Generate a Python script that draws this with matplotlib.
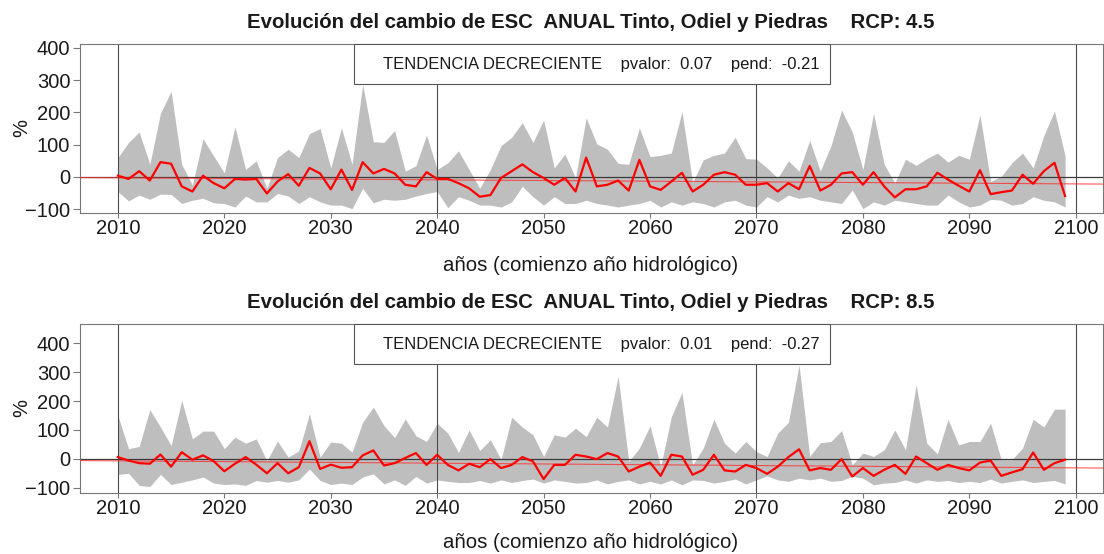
import matplotlib
matplotlib.use('Agg')
import matplotlib.pyplot as plt
from matplotlib.patches import Rectangle
import numpy as np

plt.rcParams['font.family'] = ['Liberation Sans', 'DejaVu Sans']

# ---------------- data ----------------
years = list(range(2010, 2100))
x_ticks = [2010, 2020, 2030, 2040, 2050, 2060, 2070, 2080, 2090, 2100]
y_ticks = [-100, 0, 100, 200, 300, 400]
vlines_years = [2010, 2040, 2070, 2100]

titles = ["Evolución del cambio de ESC  ANUAL Tinto, Odiel y Piedras    RCP: 4.5",
          "Evolución del cambio de ESC  ANUAL Tinto, Odiel y Piedras    RCP: 8.5"]
xlabel_text = "años (comienzo año hidrológico)"
ylabel_text = "%"
trend_label = "TENDENCIA DECRECIENTE"
pvalor = ["0.07", "0.01"]
pend = ["-0.21", "-0.27"]
trend_intercept = [-2.5, -7.0]   # value at 2010
trend_slope = [-0.21, -0.27]

upper45 = [60, 107, 139, 39, 197, 265, 39, -25, 118, 65,
           13, 155, 23, 50, -35, 60, 86, 60, 134, 150,
           28, 152, 39, 286, 109, 107, 144, 18, 35, 130,
           23, 44, 81, 23, -35, 23, 97, 123, 168, 107,
           176, 28, 71, -3, 183, 102, 86, 42, 39, 152,
           63, 67, 74, 202, -17, 53, 67, 74, 123, 57,
           55, 28, -3, 50, 18, 113, 18, 97, 207, 139,
           23, 197, 39, -19, 55, 36, 57, 74, 46, 67,
           55, 192, -14, 2, 44, 74, 28, 128, 204, 65]
mean45 = [4, -6, 18, -11, 46, 41, -29, -45, 4, -19,
          -35, -6, -8, -6, -51, -14, 9, -27, 28, 11,
          -38, 23, -40, 46, 11, 25, 11, -24, -29, 15,
          -6, -6, -19, -35, -61, -56, -3, 18, 39, 15,
          -3, -24, -3, -45, 60, -29, -24, -11, -42, 53,
          -29, -40, -14, 13, -45, -24, 7, 15, 7, -24,
          -24, -19, -45, -19, -38, 34, -42, -24, 11, 15,
          -24, 15, -29, -63, -38, -38, -29, 13, -8, -27,
          -45, 21, -53, -47, -42, 7, -21, 18, 44, -59]
lower45 = [-45, -74, -56, -69, -53, -54, -82, -72, -66, -80,
           -82, -93, -59, -77, -77, -51, -59, -82, -61, -77,
           -87, -87, -98, -35, -80, -69, -72, -69, -59, -51,
           -45, -95, -61, -72, -87, -87, -93, -77, -29, -61,
           -87, -61, -82, -82, -72, -82, -87, -93, -87, -82,
           -72, -93, -77, -87, -77, -82, -93, -77, -72, -87,
           -93, -61, -77, -56, -66, -61, -72, -77, -82, -40,
           -98, -77, -87, -72, -77, -82, -87, -87, -56, -77,
           -93, -87, -69, -72, -87, -82, -61, -72, -77, -93]

upper85 = [150, 35, 43, 170, 110, 46, 202, 69, 96, 96,
           35, 75, 54, 69, -6, 61, 6, 27, 156, 6,
           58, 54, 23, 127, 179, 115, 73, 138, 80, 60,
           123, 89, 22, 100, 29, 66, -3, 144, 110, 83,
           8, 83, 75, 106, 77, 144, 110, 285, -9, 37,
           114, -27, 146, 230, -21, 37, 137, 54, 20, 60,
           25, 8, 89, 126, 325, 8, 56, 60, 98, -21,
           20, 8, 31, 100, 31, 256, 54, 17, 137, 48,
           60, 60, 123, -3, -3, 37, 137, 110, 172, 172]
mean85 = [6, -6, -15, -17, 15, -27, 23, -3, 12, -8,
          -43, -17, 6, -20, -50, -15, -50, -29, 61, -35,
          -20, -31, -29, 12, 29, -23, -15, 3, 20, -21,
          14, -21, -40, -17, -29, -1, -32, -21, 6, -9,
          -70, -21, -21, 14, 8, -1, 20, 8, -44, -27,
          -13, -59, 14, 8, -55, -38, 14, -40, -44, -21,
          -32, -52, -27, 6, 33, -40, -32, -38, -1, -61,
          -32, -59, -38, -21, -52, 8, -15, -38, -21, -32,
          -40, -13, -6, -59, -47, -36, 22, -38, -15, -3]
lower85 = [-54, -50, -92, -96, -54, -89, -81, -73, -63, -84,
           -89, -87, -92, -75, -81, -75, -81, -73, -35, -75,
           -89, -84, -89, -63, -52, -87, -73, -92, -61, -84,
           -73, -78, -82, -82, -75, -84, -73, -82, -75, -70,
           -84, -73, -78, -84, -82, -73, -87, -78, -73, -87,
           -78, -87, -73, -90, -73, -75, -84, -78, -70, -87,
           -73, -59, -73, -78, -67, -73, -67, -78, -75, -61,
           -67, -90, -84, -82, -73, -84, -73, -78, -75, -82,
           -78, -82, -70, -84, -78, -73, -82, -78, -75, -87]

uppers = [upper45, upper85]
means = [mean45, mean85]
lowers = [lower45, lower85]

# ---------------- layout ----------------
W, H = 1104, 554
fig = plt.figure(figsize=(W / 100, H / 100), dpi=100)

xlim = (2006.44, 2102.56)
ylims = [(-110.5, 411.5), (-117.3, 466.8)]
ax_left, ax_right = 80, 1103
ax_tops = [44, 324]
ax_h = 168.7
title_y = [22, 302]
xlabel_y = [266, 543]

frame_col = '#777777'

for i in range(2):
    top = ax_tops[i]
    ax = fig.add_axes([ax_left / W, 1 - (top + ax_h) / H,
                       (ax_right - ax_left) / W, ax_h / H])
    ax.set_xlim(*xlim)
    ax.set_ylim(*ylims[i])

    ax.fill_between(years, lowers[i], uppers[i], color='#BEBEBE', lw=0, zorder=1)
    ax.axhline(0, color='#3a3a3a', lw=0.9, zorder=2)
    for v in vlines_years:
        ax.axvline(v, color='#4a4a4a', lw=0.8, zorder=2)
    xs = np.array(xlim)
    ax.plot(xs, trend_intercept[i] + trend_slope[i] * (xs - 2010),
            color='#ff3030', lw=0.8, alpha=0.8, zorder=3)
    ax.plot(years, means[i], color='#ff0000', lw=1.6, zorder=4)

    for s in ax.spines.values():
        s.set_color(frame_col)
        s.set_linewidth(0.8)
    ax.set_xticks(x_ticks)
    ax.set_yticks(y_ticks)
    ax.tick_params(axis='x', direction='out', length=3.5, width=0.8,
                   color=frame_col, labelsize=14.5, pad=1, labelcolor='#1a1a1a')
    ax.tick_params(axis='y', direction='out', length=5, width=0.8,
                   color=frame_col, labelsize=14.5, pad=2, labelcolor='#1a1a1a')

    # legend-like box
    bx0 = (354 - ax_left) / (ax_right - ax_left)
    bx1 = (830 - ax_left) / (ax_right - ax_left)
    bh = 40 / ax_h
    ax.add_patch(Rectangle((bx0, 1 - bh), bx1 - bx0, bh, transform=ax.transAxes,
                           facecolor='white', edgecolor='#555555', lw=0.8,
                           zorder=6, clip_on=False))
    tx = (383 - ax_left) / (ax_right - ax_left)
    ax.text(tx, 1 - 21 / ax_h,
            f"{trend_label}    pvalor:  {pvalor[i]}    pend:  {pend[i]}",
            transform=ax.transAxes, ha='left', va='center', fontsize=12,
            color='#1a1a1a', zorder=7)

    fig.text(591 / W, 1 - title_y[i] / H, titles[i], ha='center', va='center',
             fontsize=14.7, fontweight='bold', color='#1a1a1a')
    fig.text(591 / W, 1 - xlabel_y[i] / H, xlabel_text, ha='center', va='center',
             fontsize=14.7, color='#1a1a1a')
    fig.text(22 / W, 1 - (top + ax_h / 2) / H, ylabel_text, ha='center', va='center',
             rotation=90, fontsize=14.5, color='#1a1a1a')

fig.savefig('out.png', dpi=100, facecolor='white')
